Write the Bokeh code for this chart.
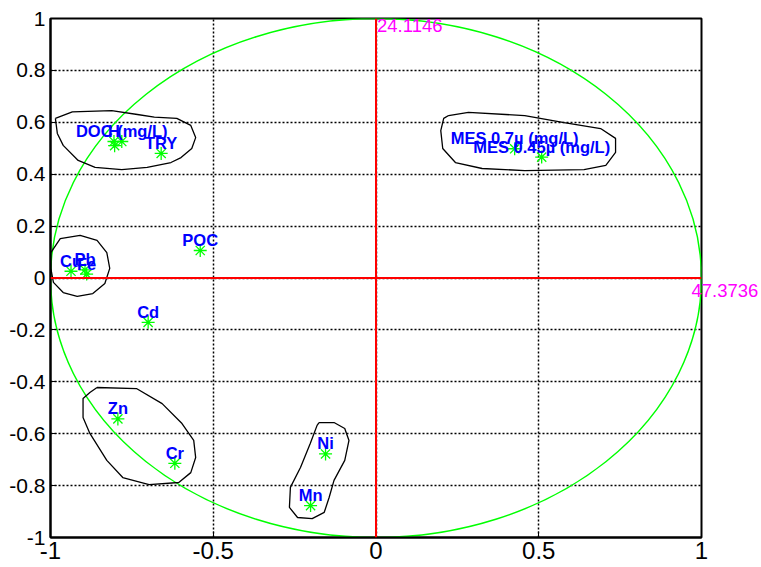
import numpy as np
from bokeh.plotting import figure
from bokeh.models import (Range1d, FixedTicker, Span, Label, LabelSet, ColumnDataSource,
                          LinearAxis)
from bokeh.core.properties import value
from bokeh.embed import file_html
from bokeh.resources import INLINE

# ---- data: variable loadings on factors 1 and 2 ----
names = ["DOC (mg/L)", "H", "TRY", "Cu", "Pb", "Fe", "POC", "Cd", "Zn", "Cr",
         "Ni", "Mn", "MES 0.7\u00b5 (mg/L)", "MES 0.45\u00b5 (mg/L)"]
f1 = [-0.781, -0.805, -0.660, -0.937, -0.894, -0.889, -0.540, -0.700, -0.793, -0.618,
      -0.155, -0.201, 0.426, 0.509]
f2 = [0.526, 0.526, 0.480, 0.026, 0.031, 0.015, 0.106, -0.171, -0.543, -0.714,
      -0.678, -0.877, 0.498, 0.466]
extra_x = [-0.803]
extra_y = [0.510]

x_ticks = [-1, -0.5, 0, 0.5, 1]
x_tick_labels = ["-1", "-0.5", "0", "0.5", "1"]
y_ticks = [-1, -0.8, -0.6, -0.4, -0.2, 0, 0.2, 0.4, 0.6, 0.8, 1]
y_tick_labels = ["-1", "-0.8", "-0.6", "-0.4", "-0.2", "0", "0.2", "0.4", "0.6", "0.8", "1"]

inertia_f1 = "47.3736"
inertia_f2 = "24.1146"

# hand-drawn group contours
c1_x = [-0.985, -0.933, -0.812, -0.733, -0.681, -0.612, -0.569, -0.554, -0.566, -0.599,
        -0.630, -0.703, -0.781, -0.863, -0.915, -0.961, -0.979]
c1_y = [0.615, 0.640, 0.645, 0.630, 0.620, 0.615, 0.588, 0.541, 0.499, 0.464,
        0.445, 0.426, 0.418, 0.426, 0.453, 0.511, 0.557]
c2_x = [-0.999, -0.970, -0.909, -0.857, -0.827, -0.818, -0.833, -0.870, -0.918, -0.961, -0.991, -0.999]
c2_y = [0.098, 0.152, 0.164, 0.145, 0.098, 0.037, -0.021, -0.060, -0.071, -0.056, -0.017, 0.037]
c3_x = [0.223, 0.284, 0.457, 0.578, 0.690, 0.736, 0.736, 0.706, 0.639, 0.457, 0.326, 0.244, 0.205, 0.199, 0.208]
c3_y = [0.626, 0.638, 0.626, 0.599, 0.576, 0.538, 0.484, 0.434, 0.418, 0.414, 0.422, 0.445, 0.499, 0.568, 0.615]
c4_x = [-0.857, -0.736, -0.657, -0.596, -0.560, -0.554, -0.569, -0.606, -0.697, -0.778, -0.827, -0.879, -0.900, -0.900, -0.879]
c4_y = [-0.422, -0.426, -0.484, -0.561, -0.626, -0.692, -0.750, -0.788, -0.796, -0.769, -0.703, -0.599, -0.538, -0.464, -0.441]
c5_x = [-0.175, -0.129, -0.096, -0.083, -0.096, -0.129, -0.144, -0.159, -0.196, -0.241, -0.266, -0.263, -0.232, -0.202, -0.181]
c5_y = [-0.557, -0.557, -0.580, -0.626, -0.703, -0.780, -0.846, -0.903, -0.927, -0.923, -0.884, -0.807, -0.730, -0.638, -0.568]

p = figure(width=761, height=567, x_range=Range1d(-1, 1), y_range=Range1d(-1, 1),
           output_backend="svg", toolbar_location=None,
           min_border_left=50, min_border_right=52, min_border_top=18, min_border_bottom=30)
p.background_fill_color = "white"
p.border_fill_color = "white"
p.outline_line_color = "black"
p.outline_line_width = 2

xax = p.xaxis[0]
yax = p.yaxis[0]
xax.ticker = FixedTicker(ticks=x_ticks)
yax.ticker = FixedTicker(ticks=y_ticks)
xax.major_label_overrides = {v: s for v, s in zip(x_ticks, x_tick_labels)}
yax.major_label_overrides = {v: s for v, s in zip(y_ticks, y_tick_labels)}
for ax in (xax, yax):
    ax.axis_line_color = "black"
    ax.axis_line_width = 2
    ax.major_tick_in = 6
    ax.major_tick_out = 0
    ax.minor_tick_in = 0
    ax.minor_tick_out = 0
    ax.major_tick_line_color = "black"
    ax.major_label_text_font = "Liberation Sans"
    ax.major_label_text_color = "black"
xax.major_label_text_font_size = "24px"
yax.major_label_text_font_size = "21px"
xax.major_label_standoff = 4
yax.major_label_standoff = 5

p.grid.grid_line_color = "black"
p.grid.grid_line_dash = "2 2"
p.grid.grid_line_width = 1.5
p.grid.grid_line_alpha = 1

# axes through origin
p.add_layout(Span(location=0, dimension="width", line_color="#ff0000", line_width=2))
p.add_layout(Span(location=0, dimension="height", line_color="#ff0000", line_width=2))

# correlation circle
p.ellipse(x=0, y=0, width=2, height=2, fill_color=None, line_color="#00ff00", line_width=1.5)

# contours
for cx, cy in ((c1_x, c1_y), (c2_x, c2_y), (c3_x, c3_y), (c4_x, c4_y), (c5_x, c5_y)):
    p.line(list(cx) + [cx[0]], list(cy) + [cy[0]], line_color="black", line_width=1.3)

# variables
src = ColumnDataSource(dict(x=f1, y=f2, name=names))
p.scatter("x", "y", source=src, marker="asterisk", size=13, line_color="#00ff00", line_width=1.3)
p.scatter(extra_x, extra_y, marker="asterisk", size=13, line_color="#00ff00", line_width=1.3)
p.add_layout(LabelSet(x="x", y="y", text="name", source=src, text_align="center",
                      text_baseline="alphabetic", y_offset=4.5,
                      text_font=value("Liberation Sans"), text_font_style="bold",
                      text_font_size=value("16.5px"), text_color="#0000ff"))

# inertia labels
p.add_layout(Label(x=0, y=1, text=inertia_f2, text_align="left", text_baseline="top",
                   x_offset=1, y_offset=0, text_font="Liberation Sans",
                   text_font_size="18.5px", text_color="#ff00ff"))

f1_label_pos = -0.048
rax = LinearAxis(ticker=FixedTicker(ticks=[f1_label_pos]),
                 major_label_overrides={f1_label_pos: inertia_f1},
                 axis_line_color=None, major_tick_line_color=None, minor_tick_line_color=None,
                 major_label_standoff=-16, major_label_text_color="#ff00ff",
                 major_label_text_font="Liberation Sans", major_label_text_font_size="18.5px")
p.add_layout(rax, "right")

open("out.html", "w").write(file_html(p, INLINE))
